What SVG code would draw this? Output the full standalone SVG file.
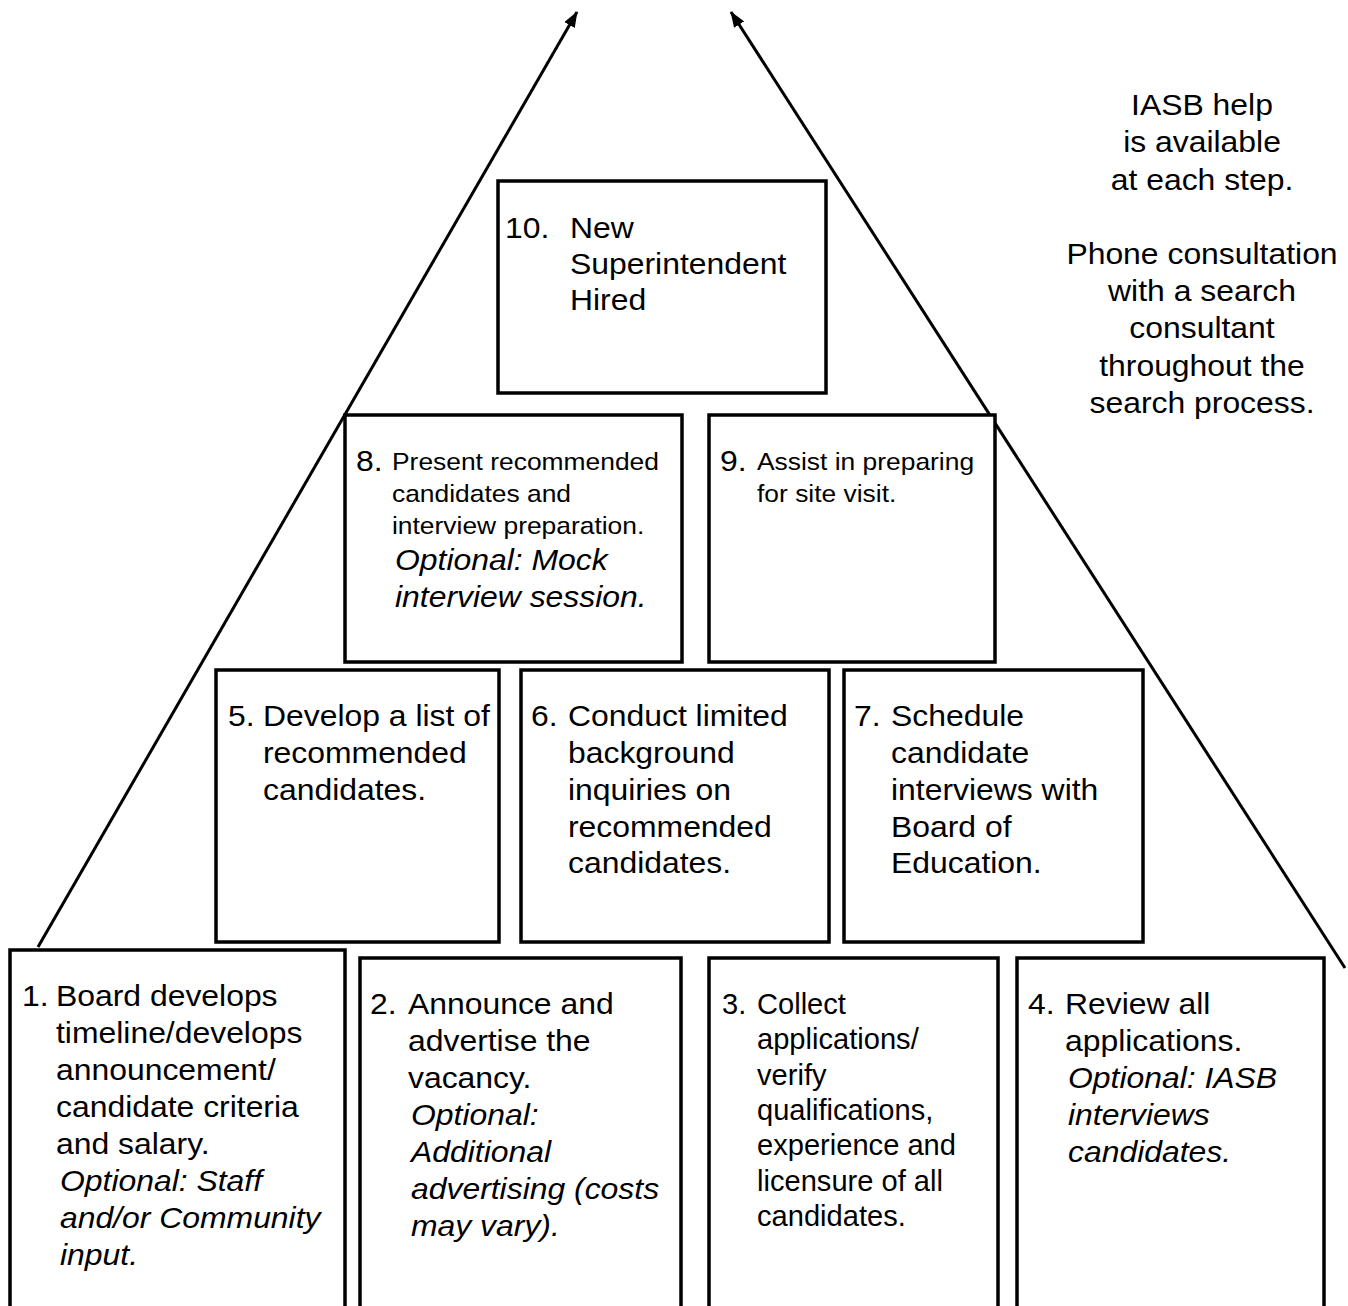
<svg xmlns="http://www.w3.org/2000/svg" width="1348" height="1306" viewBox="0 0 1348 1306">
<style>
text { font-family: "Liberation Sans", Arial, sans-serif; font-size: 29px; fill: #000; }
.s { font-size: 24px; }
.i { font-style: italic; }
.m { text-anchor: middle; }
.box { fill: #fff; stroke: #000; stroke-width: 3.5; }
.edge { fill: none; stroke: #000; stroke-width: 3; }
</style>
<defs>
<marker id="ah" viewBox="0 0 16 12" refX="15" refY="6" markerWidth="16" markerHeight="12" markerUnits="userSpaceOnUse" orient="auto">
<path d="M0,0 L16,6 L0,12 z" fill="#000"/>
</marker>
</defs>
<g id="connectors">
<line class="edge" x1="38" y1="947" x2="577" y2="12" marker-end="url(#ah)"/>
<line class="edge" x1="1345" y1="968" x2="731" y2="12" marker-end="url(#ah)"/>
</g>
<g id="note">
<text class="m" transform="translate(1202,115) scale(1.1,1)">IASB help</text>
<text class="m" transform="translate(1202,152) scale(1.1,1)">is available</text>
<text class="m" transform="translate(1202,190) scale(1.1,1)">at each step.</text>
<text class="m" transform="translate(1202,264) scale(1.1,1)">Phone consultation</text>
<text class="m" transform="translate(1202,301) scale(1.1,1)">with a search</text>
<text class="m" transform="translate(1202,338) scale(1.1,1)">consultant</text>
<text class="m" transform="translate(1202,376) scale(1.1,1)">throughout the</text>
<text class="m" transform="translate(1202,413) scale(1.1,1)">search process.</text>
</g>
<g id="step10">
<rect class="box" x="498" y="181" width="328" height="212"/>
<text transform="translate(505,238) scale(1.1,1)">10.</text>
<text transform="translate(570,238) scale(1.1,1)">New</text>
<text transform="translate(570,274) scale(1.1,1)">Superintendent</text>
<text transform="translate(570,310) scale(1.1,1)">Hired</text>
</g>
<g id="step8">
<rect class="box" x="345" y="415" width="337" height="247"/>
<text transform="translate(356,471) scale(1.1,1)">8.</text>
<text class="s" transform="translate(392,470) scale(1.1,1)">Present recommended</text>
<text class="s" transform="translate(392,502) scale(1.1,1)">candidates and</text>
<text class="s" transform="translate(392,534) scale(1.1,1)">interview preparation.</text>
<text class="i" transform="translate(395,570) scale(1.1,1)">Optional: Mock</text>
<text class="i" transform="translate(395,607) scale(1.1,1)">interview session.</text>
</g>
<g id="step9">
<rect class="box" x="709" y="415" width="286" height="247"/>
<text transform="translate(720,471) scale(1.1,1)">9.</text>
<text class="s" transform="translate(757,470) scale(1.1,1)">Assist in preparing</text>
<text class="s" transform="translate(757,502) scale(1.1,1)">for site visit.</text>
</g>
<g id="step5">
<rect class="box" x="216" y="670" width="283" height="272"/>
<text transform="translate(228,726) scale(1.1,1)">5.</text>
<text transform="translate(263,726) scale(1.1,1)">Develop a list of</text>
<text transform="translate(263,763) scale(1.1,1)">recommended</text>
<text transform="translate(263,800) scale(1.1,1)">candidates.</text>
</g>
<g id="step6">
<rect class="box" x="521" y="670" width="308" height="272"/>
<text transform="translate(531,726) scale(1.1,1)">6.</text>
<text transform="translate(568,726) scale(1.1,1)">Conduct limited</text>
<text transform="translate(568,763) scale(1.1,1)">background</text>
<text transform="translate(568,800) scale(1.1,1)">inquiries on</text>
<text transform="translate(568,837) scale(1.1,1)">recommended</text>
<text transform="translate(568,873) scale(1.1,1)">candidates.</text>
</g>
<g id="step7">
<rect class="box" x="844" y="670" width="299" height="272"/>
<text transform="translate(854,726) scale(1.1,1)">7.</text>
<text transform="translate(891,726) scale(1.1,1)">Schedule</text>
<text transform="translate(891,763) scale(1.1,1)">candidate</text>
<text transform="translate(891,800) scale(1.1,1)">interviews with</text>
<text transform="translate(891,837) scale(1.1,1)">Board of</text>
<text transform="translate(891,873) scale(1.1,1)">Education.</text>
</g>
<g id="step1">
<rect class="box" x="10" y="950" width="335" height="380"/>
<text transform="translate(22,1006) scale(1.1,1)">1.</text>
<text transform="translate(56,1006) scale(1.1,1)">Board develops</text>
<text transform="translate(56,1043) scale(1.1,1)">timeline/develops</text>
<text transform="translate(56,1080) scale(1.1,1)">announcement/</text>
<text transform="translate(56,1117) scale(1.1,1)">candidate criteria</text>
<text transform="translate(56,1154) scale(1.1,1)">and salary.</text>
<text class="i" transform="translate(60,1191) scale(1.1,1)">Optional: Staff</text>
<text class="i" transform="translate(60,1228) scale(1.1,1)">and/or Community</text>
<text class="i" transform="translate(60,1265) scale(1.1,1)">input.</text>
</g>
<g id="step2">
<rect class="box" x="360" y="958" width="321" height="380"/>
<text transform="translate(370,1014) scale(1.1,1)">2.</text>
<text transform="translate(408,1014) scale(1.1,1)">Announce and</text>
<text transform="translate(408,1051) scale(1.1,1)">advertise the</text>
<text transform="translate(408,1088) scale(1.1,1)">vacancy.</text>
<text class="i" transform="translate(411,1125) scale(1.1,1)">Optional:</text>
<text class="i" transform="translate(411,1162) scale(1.1,1)">Additional</text>
<text class="i" transform="translate(411,1199) scale(1.1,1)">advertising (costs</text>
<text class="i" transform="translate(411,1236) scale(1.1,1)">may vary).</text>
</g>
<g id="step3">
<rect class="box" x="709" y="958" width="289" height="380"/>
<text transform="translate(722,1014) scale(0.97,1)" style="font-size:30px">3.</text>
<text transform="translate(757,1014) scale(0.97,1)" style="font-size:30px">Collect</text>
<text transform="translate(757,1049) scale(0.97,1)" style="font-size:30px">applications/</text>
<text transform="translate(757,1085) scale(0.97,1)" style="font-size:30px">verify</text>
<text transform="translate(757,1120) scale(0.97,1)" style="font-size:30px">qualifications,</text>
<text transform="translate(757,1155) scale(0.97,1)" style="font-size:30px">experience and</text>
<text transform="translate(757,1191) scale(0.97,1)" style="font-size:30px">licensure of all</text>
<text transform="translate(757,1226) scale(0.97,1)" style="font-size:30px">candidates.</text>
</g>
<g id="step4">
<rect class="box" x="1017" y="958" width="307" height="380"/>
<text transform="translate(1028,1014) scale(1.1,1)">4.</text>
<text transform="translate(1065,1014) scale(1.1,1)">Review all</text>
<text transform="translate(1065,1051) scale(1.1,1)">applications.</text>
<text class="i" transform="translate(1068,1088) scale(1.1,1)">Optional: IASB</text>
<text class="i" transform="translate(1068,1125) scale(1.1,1)">interviews</text>
<text class="i" transform="translate(1068,1162) scale(1.1,1)">candidates.</text>
</g>
</svg>
